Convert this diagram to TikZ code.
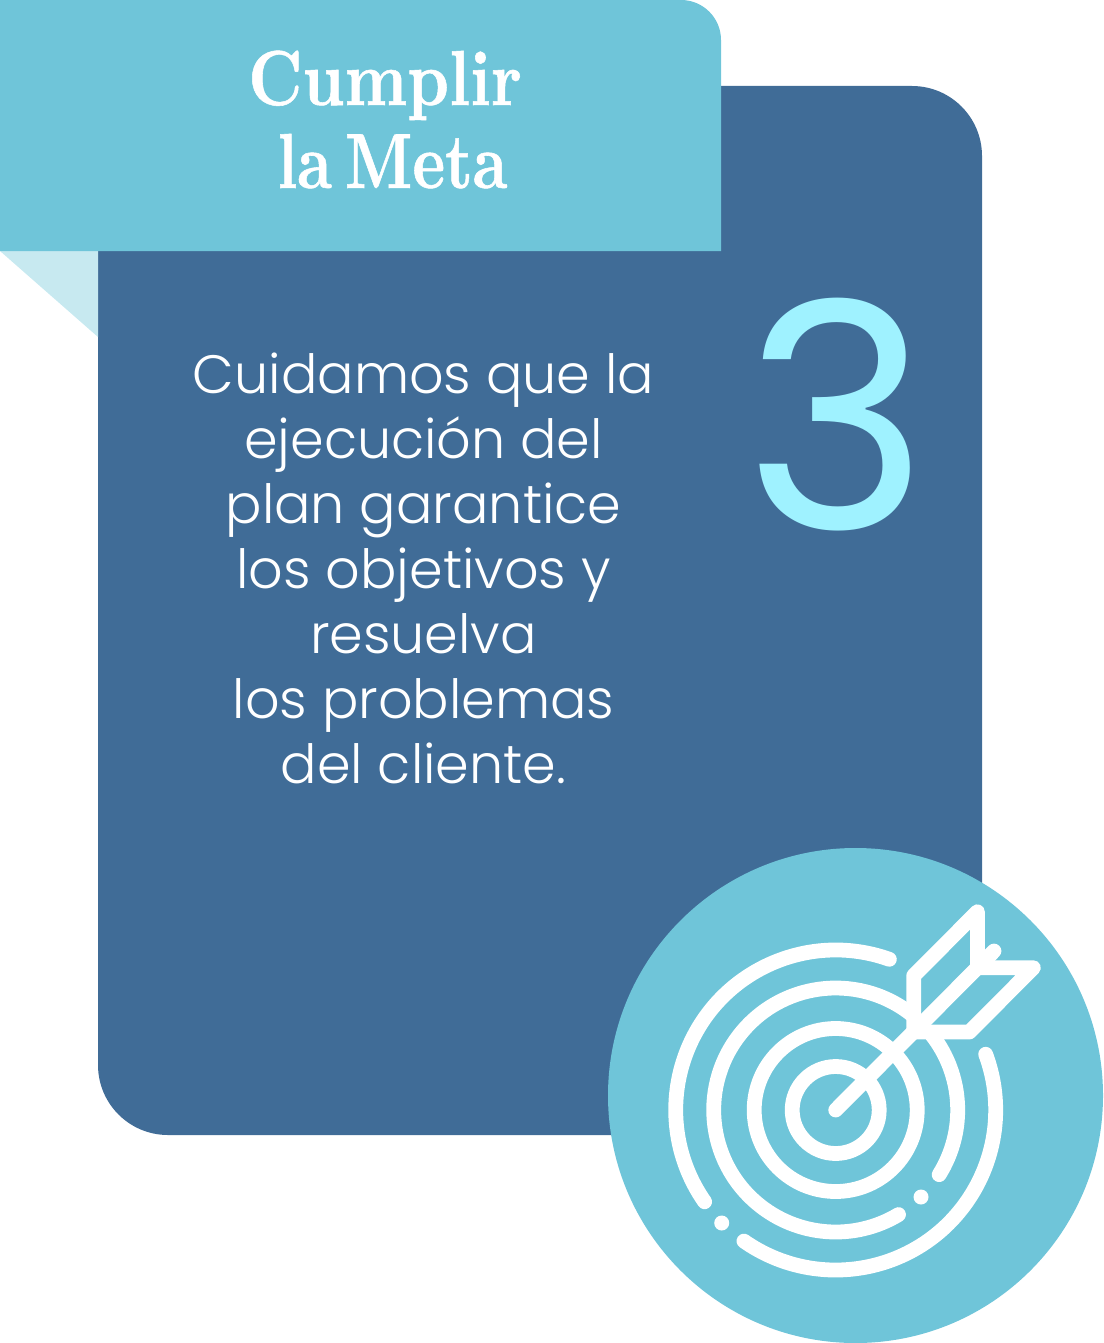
\documentclass[tikz,border=0pt]{standalone}
\usepackage{fontspec}
\usepackage{graphicx}
\usetikzlibrary{calc}
\newfontfamily\bodyfont{Poppins Light}
\newfontfamily\numfont{Poppins}
\newfontfamily\titlefont[Extension=.otf,FakeStretch=0.84,FakeBold=0.7,WordSpace=0.55]{lmroman10-bold}
\definecolor{panelblue}{HTML}{406C97}
\definecolor{bannerblue}{HTML}{6FC5D9}
\definecolor{foldblue}{HTML}{C7E9F0}
\definecolor{numblue}{HTML}{9FF2FF}

\begin{document}
\begin{tikzpicture}[x=0.5pt,y=-0.5pt,inner sep=0pt,
  ring/.style={draw=white,line width=7.4pt,line cap=round,line join=round},
  spot/.style={fill=white},
  heading/.style={text=white,anchor=base,font=\titlefont\fontsize{39}{41.5}\selectfont}]
\def\u{7.5}
\useasboundingbox (0,0) rectangle (1103,1343);

\fill[panelblue] (98,240) -- (98,1065) arc (180:90:70 and 70) -- (700,1135) -- (982,1135) -- (982,156) arc (0:90:70 and -70) -- (98,86) -- cycle;
\fill[foldblue] (0,251) -- (98,251) -- (98,337) -- cycle;
\fill[bannerblue] (0,0) -- (681,0) arc (90:0:40 and -40) -- (721,251) -- (0,251) -- cycle;
\fill[bannerblue] (855.5,1095.5) circle (247.5);

\node[heading] (title1) at (385,105) {Cumplir};
\node[heading] (title2) at (392.5,188) {\scalebox{0.945}[1]{la Meta}};
\node[text=white,align=center,font=\bodyfont\fontsize{27}{32.5}\selectfont] (body) at (423.5,568.5) {Cuidamos que la\\ejecución del\\plan garantice\\los objetivos y\\resuelva\\los problemas\\del cliente.};
\node[text=numblue,font=\numfont\fontsize{157}{157}\selectfont] (num) at (837,415) {3};

\begin{scope}[shift={(835.7,1110)}]
\coordinate (o) at (0,0);
\draw[ring] (o) circle (43.5);
\draw[ring] (o) circle (81.5);
% outer arcs, y is flipped so angles run the other way
\draw[ring] (50:122 and -122) arc (50:301:122 and -122);
\draw[ring] (-32:122 and -122) arc (-32:38:122 and -122);
\draw[ring] (70.4:160 and -160) arc (70.4:215:160 and -160);
\draw[ring] (235:160 and -160) arc (235:380.4:160 and -160);
\fill[spot] (-114,113) circle (\u);
\fill[spot] (85.3,87) circle (\u);
% arrow
\coordinate (tip) at (141.7,-142.3);
\draw[ring] (o) -- (tip) -- (158.3,-159);
\draw[ring] (78,-78) -- (78,-134.3) -- (141.7,-198.3) -- (tip) -- (197.7,-142.3) -- (133.7,-78) -- (78,-78);
\end{scope}
\end{tikzpicture}
\end{document}
